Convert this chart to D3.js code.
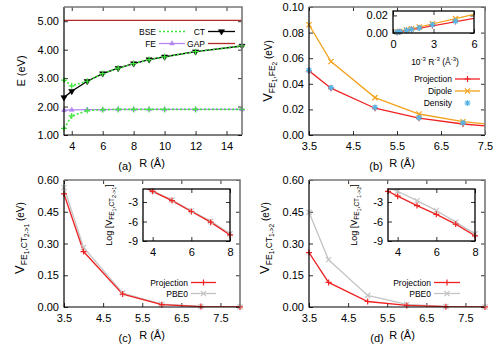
<!DOCTYPE html>
<html>
<head>
<meta charset="utf-8">
<script src="https://cdn.jsdelivr.net/npm/d3@7"></script>
<style>
body { margin: 0; background: #fff; }
text { font-family: "Liberation Sans", Arial, Helvetica, sans-serif; }
</style>
</head>
<body>
<div id="chart"></div>
<script>
// (a) energies vs R
var rA = [3.5, 4, 5, 6, 7, 8, 9, 10, 12, 15];
var ctA = [2.32, 2.54, 2.89, 3.16, 3.35, 3.51, 3.65, 3.75, 3.93, 4.13];
var bseCtA = [2.93, 2.73, 2.89, 3.16, 3.35, 3.51, 3.65, 3.75, 3.93, 4.13];
var bseFeA = [1.23, 1.67, 1.86, 1.89, 1.90, 1.90, 1.90, 1.90, 1.90, 1.90];
var feA = [1.87, 1.88, 1.89, 1.89, 1.90, 1.90, 1.90, 1.90, 1.90, 1.90];
var gapA = [5.03, 5.03, 5.03, 5.03, 5.03, 5.03, 5.03, 5.03, 5.03, 5.03];

// (b) FE-FE coupling
var rB = [3.5, 4, 5, 6, 7, 8];
var projB = [0.0501, 0.0366, 0.0209, 0.0131, 0.0086, 0.0058];
var dipoleB = [0.0861, 0.0574, 0.0292, 0.0164, 0.0104, 0.0069];
var densB = [0.0505, 0.0370, 0.0215, 0.0135, 0.0095];
// (b) inset, vs 10^-3 R^-3
var invR3 = [0.30, 0.51, 1.00, 1.37, 1.95, 2.92, 4.63];
var projIn = [0.0009, 0.0015, 0.0029, 0.0040, 0.0057, 0.0086, 0.0131];
var dipoleIn = [0.0011, 0.0018, 0.0035, 0.0049, 0.0069, 0.0104, 0.0164];
var densIn = [0.0009, 0.0015, 0.0030, 0.0041, 0.0058, 0.0095, 0.0135];
var fitX = [0, 6];
var projFit = [0, 0.0166];
var dipoleFit = [0, 0.0212];

// (c) and (d) FE-CT couplings
var rC = [3.5, 4, 5, 6, 7, 8];
var projC = [0.534, 0.262, 0.061, 0.011, 0.002, 0.0004];
var pbeC = [0.565, 0.281, 0.066, 0.013, 0.0026, 0.0004];
var logProjC = [-0.63, -1.36, -2.78, -4.46, -6.10, -8.07];
var logPbeC = [-0.57, -1.30, -2.70, -4.35, -5.95, -7.90];
var projD = [0.257, 0.116, 0.026, 0.0075, 0.0017, 0.0003];
var pbeD = [0.448, 0.223, 0.055, 0.012, 0.0025, 0.0004];
var logProjD = [-1.36, -2.10, -3.55, -4.90, -6.40, -8.20];
var logPbeD = [-0.80, -1.35, -2.80, -4.30, -6.10, -7.90];

var cGap = "#b22a2a", cBse = "#3ee63e", cFe = "#b486f2", cProj = "#ee2222",
    cDip = "#f2a21e", cDens = "#5ab4e5", cPbe = "#c4c4c4";

var svg = d3.select("#chart").append("svg")
    .attr("width", 500)
    .attr("height", 350);

var shapes = {
    plus: "M-3,0H3M0,-3V3",
    cross: "M-2.6,-2.6L2.6,2.6M-2.6,2.6L2.6,-2.6",
    star: "M-3,0H3M0,-3V3M-2.2,-2.2L2.2,2.2M-2.2,2.2L2.2,-2.2",
    tri: d3.symbol(d3.symbolTriangle, 10)(),
    tridown: d3.symbol(d3.symbolTriangle, 16)()
};

function panel(id, b, inset) {
    var x = d3.scaleLinear().domain(b.xd).range([b.l, b.r]);
    var y = d3.scaleLinear().domain(b.yd).range([b.b, b.t]);
    var g = svg.append("g");
    if (inset) {
        g.append("rect").attr("x", b.l).attr("y", b.t)
            .attr("width", b.r - b.l).attr("height", b.b - b.t).attr("fill", "#fff");
    }
    function ax(axis, tx, ty) {
        var a = g.append("g").attr("transform", "translate(" + tx + "," + ty + ")").call(axis);
        a.select(".domain").remove();
        a.selectAll("line").attr("stroke", "#333");
        a.selectAll("text").attr("font-size", 11)
            .attr("font-family", "Liberation Sans, Arial, sans-serif").attr("fill", "#000");
    }
    ax(d3.axisBottom(x).tickValues(b.xt).tickSize(-4).tickPadding(7).tickFormat(b.xf), 0, b.b);
    ax(d3.axisTop(x).tickValues(b.xt).tickSize(-4).tickFormat(""), 0, b.t);
    ax(d3.axisLeft(y).tickValues(b.yt).tickSize(-4).tickPadding(5).tickFormat(b.yf), b.l, 0);
    ax(d3.axisRight(y).tickValues(b.yt).tickSize(-4).tickFormat(""), b.r, 0);

    svg.append("clipPath").attr("id", id).append("rect")
        .attr("x", b.l).attr("y", b.t).attr("width", b.r - b.l).attr("height", b.b - b.t);
    var plot = svg.append("g").attr("clip-path", "url(#" + id + ")");
    var marks = svg.append("g");

    // frame: left/bottom crisp, top/right softer like the original
    var f = svg.append("g").attr("fill", "none");
    if (inset) {
        f.append("rect").attr("x", b.l).attr("y", b.t)
            .attr("width", b.r - b.l).attr("height", b.b - b.t)
            .attr("stroke", "#000").attr("stroke-width", 1.3);
    } else {
        f.append("path").attr("d", "M" + b.l + "," + b.t + "V" + b.b + "H" + b.r)
            .attr("stroke", "#000").attr("stroke-width", 1.2);
        f.append("path").attr("d", "M" + b.l + "," + b.t + "H" + b.r + "V" + b.b)
            .attr("stroke", "#777").attr("stroke-width", 1.6);
    }
    return { x: x, y: y, g: plot, m: marks, b: b };
}

function drawLine(p, xs, ys, color, w, dash) {
    p.g.append("path")
        .datum(d3.range(Math.min(xs.length, ys.length)))
        .attr("d", d3.line()
            .x(function (i) { return p.x(xs[i]); })
            .y(function (i) { return p.y(ys[i]); }))
        .attr("fill", "none")
        .attr("stroke", color)
        .attr("stroke-width", w)
        .attr("stroke-dasharray", dash || null);
}

function drawMarks(p, xs, ys, shape, color) {
    var xd = p.x.domain(), yd = p.y.domain();
    var idx = d3.range(Math.min(xs.length, ys.length)).filter(function (i) {
        return xs[i] >= xd[0] && xs[i] <= xd[1] && ys[i] >= yd[0] && ys[i] <= yd[1];
    });
    var filled = shape == "tri" || shape == "tridown";
    p.m.selectAll(null)
        .data(idx)
        .enter()
        .append("path")
        .attr("transform", function (i) {
            return "translate(" + p.x(xs[i]) + "," + p.y(ys[i]) + ")" + (shape == "tridown" ? " rotate(180)" : "");
        })
        .attr("d", shapes[shape])
        .attr("fill", filled ? color : "none")
        .attr("stroke", color)
        .attr("stroke-width", filled ? 0.6 : 1.2);
}

function legendRow(x0, x1, y, label, color, shape, dash, noLine) {
    svg.append("text")
        .attr("x", x0 - 3).attr("y", y + 3)
        .attr("text-anchor", "end")
        .attr("font-size", 8.5)
        .text(label);
    if (!noLine) {
        svg.append("line")
            .attr("x1", x0).attr("x2", x1).attr("y1", y).attr("y2", y)
            .attr("stroke", color).attr("stroke-width", dash ? 1.6 : 1.3)
            .attr("stroke-dasharray", dash || null);
    }
    if (shape) {
        var filled = shape == "tri" || shape == "tridown";
        svg.append("path")
            .attr("transform", "translate(" + (x0 + x1) / 2 + "," + y + ")" + (shape == "tridown" ? " rotate(180)" : ""))
            .attr("d", shapes[shape])
            .attr("fill", filled ? color : "none")
            .attr("stroke", color)
            .attr("stroke-width", filled ? 0.6 : 1.2);
    }
}

// text with sub/superscripts: parts = [text, size, baseline offset]
function rich(x, y, parts, rotate, anchor) {
    var t = svg.append("text")
        .attr("transform", "translate(" + x + "," + y + ")" + (rotate ? " rotate(-90)" : ""))
        .attr("text-anchor", anchor || "middle");
    var prev = 0;
    parts.forEach(function (p) {
        t.append("tspan").attr("font-size", p[1]).attr("dy", p[2] - prev).text(p[0]);
        prev = p[2];
    });
    return t;
}

var f2 = d3.format(".2f"), f1 = d3.format(".1f"), fd = function (d) { return String(d); };

// ---------- (a)
var pa = panel("ca", { l: 64, r: 242, t: 7, b: 135, xd: [3.5, 15], yd: [1, 5.5],
    xt: [4, 6, 8, 10, 12, 14], yt: [1, 2, 3, 4, 5], xf: fd, yf: f2 });
drawLine(pa, rA, gapA, cGap, 1.3);
drawLine(pa, rA, ctA, "#000", 1.4);
drawLine(pa, rA, feA, cFe, 1.3);
drawLine(pa, rA, bseCtA, cBse, 1.6, "2,2");
drawLine(pa, rA, bseFeA, cBse, 1.6, "2,2");
drawMarks(pa, rA, ctA, "tridown", "#000");
drawMarks(pa, rA, feA, "tri", cFe);
drawMarks(pa, rA, bseCtA, "plus", cBse);
drawMarks(pa, rA, bseFeA, "plus", cBse);
legendRow(159, 185, 31.5, "BSE", cBse, null, "2,2");
legendRow(208, 235, 31.5, "CT", "#000", "tridown");
legendRow(159, 185, 43.5, "FE", cFe, "tri");
legendRow(208, 235, 43.5, "GAP", cGap, null);
rich(25, 71, [["E (eV)", 11, 0]], true);
rich(152, 167, [["R (Å)", 11, 0]]);
rich(125, 170, [["(a)", 11, 0]]);

// ---------- (b)
var pb = panel("cb", { l: 309, r: 485, t: 7, b: 135, xd: [3.5, 7.5], yd: [0, 0.1],
    xt: [3.5, 4.5, 5.5, 6.5, 7.5], yt: [0, 0.02, 0.04, 0.06, 0.08, 0.1], xf: f1, yf: f2 });
drawLine(pb, rB, dipoleB, cDip, 1.3);
drawLine(pb, rB, projB, cProj, 1.3);
drawMarks(pb, rB, dipoleB, "cross", cDip);
drawMarks(pb, rB, projB, "plus", cProj);
drawMarks(pb, rB, densB, "star", cDens);
legendRow(455, 480, 79, "Projection", cProj, "plus");
legendRow(455, 480, 91, "Dipole", cDip, "cross");
legendRow(455, 480, 103, "Density", cDens, "star", null, true);
rich(272, 71, [["V", 13, 0], ["FE", 8.5, 3], ["1", 6.5, 5], [",", 8.5, 3], ["FE", 8.5, 3], ["2", 6.5, 5], [" (eV)", 10, 0]], true);
rich(402, 167, [["R (Å)", 11, 0]]);
rich(376, 170, [["(b)", 11, 0]]);

var ib = panel("cib", { l: 393, r: 474, t: 11, b: 33, xd: [0, 6], yd: [0, 0.025],
    xt: [0, 3, 6], yt: [0, 0.02], xf: fd, yf: f2 }, true);
drawLine(ib, fitX, dipoleFit, cDip, 1.2);
drawLine(ib, fitX, projFit, cProj, 1.2);
drawMarks(ib, invR3, dipoleIn, "cross", cDip);
drawMarks(ib, invR3, projIn, "plus", cProj);
drawMarks(ib, invR3, densIn, "star", cDens);
rich(435, 65, [["10", 8.5, 0], ["-3", 6, -4], [" R", 8.5, 0], ["-3", 6, -4], [" (Å", 8.5, 0], ["-3", 6, -4], [")", 8.5, 0]]);

// ---------- (c)
var pc = panel("cc", { l: 64, r: 240, t: 180, b: 307, xd: [3.5, 8], yd: [0, 0.6],
    xt: [3.5, 4.5, 5.5, 6.5, 7.5], yt: [0, 0.15, 0.3, 0.45, 0.6], xf: f1, yf: f2 });
drawLine(pc, rC, pbeC, cPbe, 1.3);
drawLine(pc, rC, projC, cProj, 1.3);
drawMarks(pc, rC, pbeC, "cross", cPbe);
drawMarks(pc, rC, projC, "plus", cProj);
legendRow(191, 216, 282.5, "Projection", cProj, "plus");
legendRow(191, 216, 293.5, "PBE0", cPbe, "cross");
rich(24, 238, [["V", 13, 0], ["FE", 8.5, 3], ["1", 6.5, 5], [",CT", 8.5, 3], ["2->1", 6.5, 5], [" (eV)", 10, 0]], true);
rich(152, 339, [["R (Å)", 11, 0]]);
rich(125, 342, [["(c)", 11, 0]]);

var ic = panel("cic", { l: 143, r: 230, t: 189, b: 241, xd: [3.5, 8], yd: [-9, -1],
    xt: [4, 6, 8], yt: [-3, -6, -9], xf: fd, yf: fd }, true);
drawLine(ic, rC, logPbeC, cPbe, 1.3);
drawLine(ic, rC, logProjC, cProj, 1.3);
drawMarks(ic, rC, logPbeC, "cross", cPbe);
drawMarks(ic, rC, logProjC, "plus", cProj);
rich(112, 215, [["Log [V", 9, 0], ["FE", 6.5, 2], ["1", 5.5, 3.5], [",CT", 6.5, 2], ["2->1", 5.5, 3.5], ["]", 9, 0]], true);

// ---------- (d)
var pd = panel("cd", { l: 309, r: 485, t: 180, b: 307, xd: [3.5, 8], yd: [0, 0.6],
    xt: [3.5, 4.5, 5.5, 6.5, 7.5], yt: [0, 0.15, 0.3, 0.45, 0.6], xf: f1, yf: f2 });
drawLine(pd, rC, pbeD, cPbe, 1.3);
drawLine(pd, rC, projD, cProj, 1.3);
drawMarks(pd, rC, pbeD, "cross", cPbe);
drawMarks(pd, rC, projD, "plus", cProj);
legendRow(434, 460, 282.5, "Projection", cProj, "plus");
legendRow(434, 460, 293.5, "PBE0", cPbe, "cross");
rich(269, 238, [["V", 13, 0], ["FE", 8.5, 3], ["1", 6.5, 5], [",CT", 8.5, 3], ["1->2", 6.5, 5], [" (eV)", 10, 0]], true);
rich(402, 339, [["R (Å)", 11, 0]]);
rich(377, 342, [["(d)", 11, 0]]);

var id = panel("cid", { l: 388, r: 475, t: 189, b: 241, xd: [3.5, 8], yd: [-9, -1],
    xt: [4, 6, 8], yt: [-3, -6, -9], xf: fd, yf: fd }, true);
drawLine(id, rC, logPbeD, cPbe, 1.3);
drawLine(id, rC, logProjD, cProj, 1.3);
drawMarks(id, rC, logPbeD, "cross", cPbe);
drawMarks(id, rC, logProjD, "plus", cProj);
rich(357, 215, [["Log [V", 9, 0], ["FE", 6.5, 2], ["1", 5.5, 3.5], [",CT", 6.5, 2], ["1->2", 5.5, 3.5], ["]", 9, 0]], true);
</script>
</body>
</html>
